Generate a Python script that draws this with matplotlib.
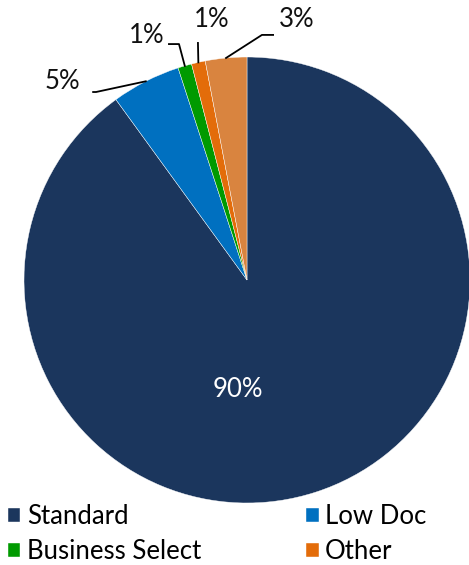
import matplotlib.pyplot as plt
import numpy as np

plt.rcParams['font.family'] = ['Lato', 'DejaVu Sans']

categories = ['Standard', 'Low Doc', 'Business Select', 'Other', '']
shares = [90, 5, 1, 1, 3]
colors = ['#1b365d', '#0070c0', '#009a00', '#e36c0a', '#d9843f']
legend_order = [0, 2, 1, 3]  # fill the two-column legend row by row

# outside label placement (text position, line bend points) per small slice
label_pos = {
    1: ((-0.83, 0.89), [(-0.69, 0.843), (-0.677, 0.843)]),
    2: ((-0.45, 1.095), [(-0.35, 1.058), (-0.305, 1.058)]),
    3: ((-0.16, 1.17), [(-0.22, 1.063)]),
    4: ((0.225, 1.17), [(0.117, 1.099), (0.067, 1.099)]),
}

W, H = 469, 565
fig = plt.figure(figsize=(W / 100, H / 100), dpi=100)
r_px = 223
cx, cy = 247, 280
ax = fig.add_axes([(cx - r_px) / W, (H - cy - r_px) / H, 2 * r_px / W, 2 * r_px / H])

wedges, _ = ax.pie(shares, colors=colors, startangle=90, counterclock=False,
                   radius=1, wedgeprops=dict(edgecolor='white', linewidth=0.3))
ax.set_xlim(-1, 1)
ax.set_ylim(-1, 1)
ax.set_aspect('equal')
ax.axis('off')
for w in wedges:
    w.set_clip_on(False)

fs = 18.5
ax.text(-0.04, -0.49, f'{shares[0]}%', color='white', fontsize=fs,
        ha='center', va='center')

for i, (txt, bends) in label_pos.items():
    w = wedges[i]
    mid = np.deg2rad((w.theta1 + w.theta2) / 2)
    edge = (np.cos(mid), np.sin(mid))
    pts = bends + [edge]
    ax.plot([p[0] for p in pts], [p[1] for p in pts], color='black',
            lw=1.3, clip_on=False)
    ax.text(txt[0], txt[1], f'{shares[i]}%', fontsize=fs, color='#111111',
            ha='center', va='center')

fig.legend([wedges[i] for i in legend_order],
           [categories[i] for i in legend_order], ncol=2,
           loc='upper left', bbox_to_anchor=(8 / W, 1 - 504 / H),
           frameon=False, prop=dict(size=fs),
           handlelength=0.48, handleheight=0.48,
           handletextpad=0.25, columnspacing=4.1, labelspacing=0.4,
           borderpad=0, borderaxespad=0)

fig.savefig('out.png', dpi=100)
